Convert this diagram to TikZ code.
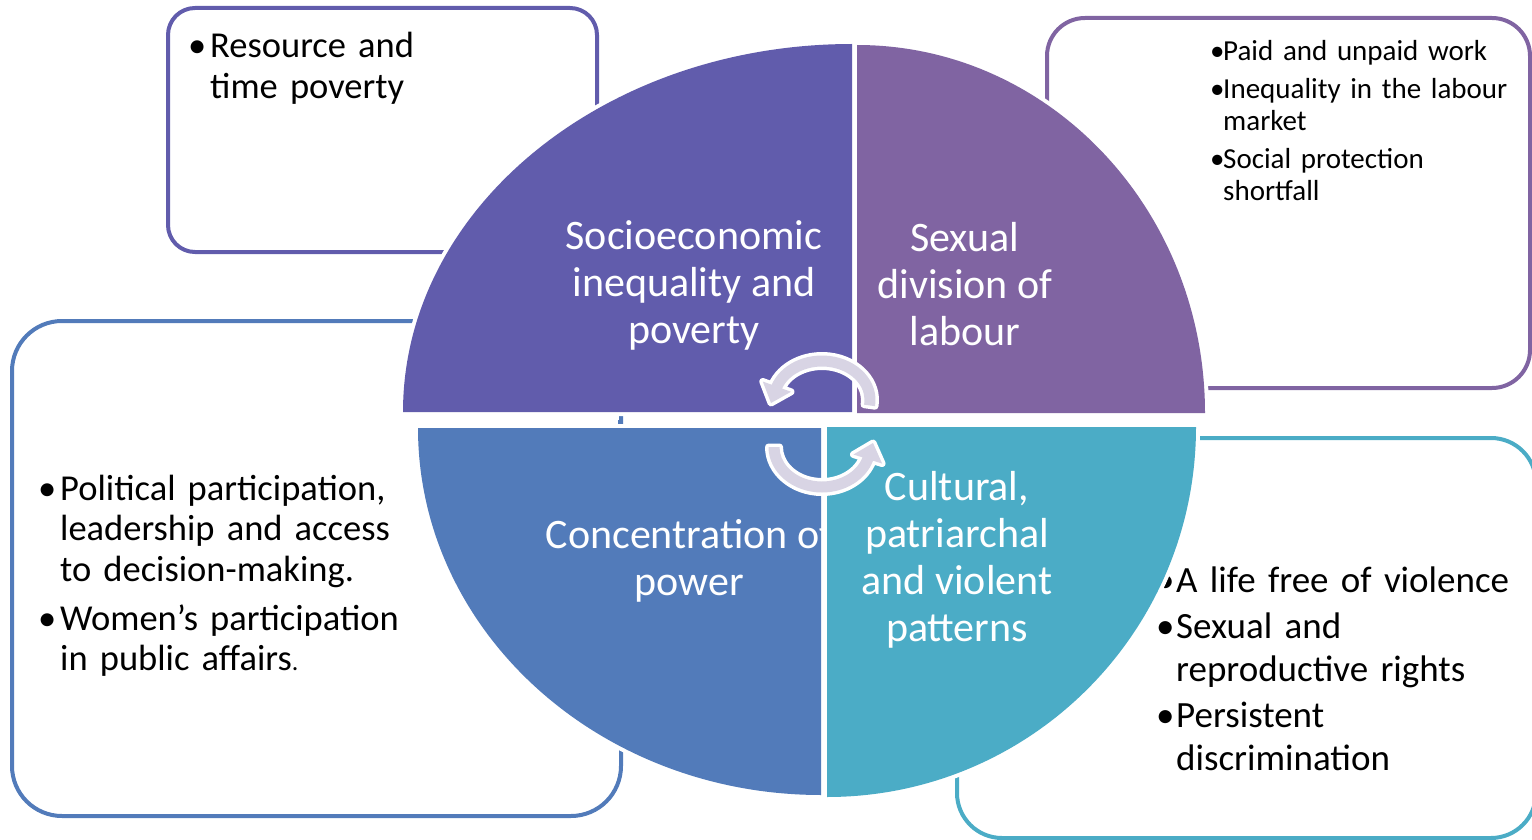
\documentclass[tikz,border=0pt]{standalone}
\usepackage{fontspec}
\setmainfont{Carlito}
\usepackage{tikz}
\usetikzlibrary{positioning}

\definecolor{socio}{HTML}{615CAC}
\definecolor{sexual}{HTML}{8064A2}
\definecolor{power}{HTML}{527BBA}
\definecolor{culture}{HTML}{4BACC6}
\definecolor{ring}{HTML}{D8D4E4}

\newcommand{\bitem}[2][20pt]{\par\hangindent=#1\hangafter=1\noindent\makebox[#1][l]{\textbullet}#2\par}

\begin{document}
\begin{tikzpicture}[x=1pt, y=1pt]
    \tikzstyle{infobox} = [rectangle, line width=4pt, inner sep=0pt]
    \tikzstyle{boxtext} = [anchor=north west, inner sep=0pt, align=left, text=black]
    \tikzstyle{quarter} = [preaction={draw=white, line width=8pt}]
    \tikzstyle{qlabel} = [align=center, text=white, font=\fontsize{42}{47}\selectfont]
    \tikzstyle{ringarrow} = [fill=ring, preaction={draw=white, line width=7pt, line join=round}]

    \useasboundingbox (0,0) rectangle (1532,-840);

    % Boxes behind the wheel
    \node (b_resource) [infobox, draw=socio, minimum width=429pt, minimum height=244pt, rounded corners=27pt] at (382.5,-130) {};
    \node (b_labour) [infobox, draw=sexual, minimum width=483pt, minimum height=370pt, rounded corners=38pt] at (1288.5,-203) {};
    \node (b_political) [infobox, draw=power, minimum width=609pt, minimum height=495pt, rounded corners=50pt] at (316.5,-568.5) {};
    \node (b_violence) [infobox, draw=culture, minimum width=579pt, minimum height=400pt, rounded corners=45pt] at (1246.5,-638) {};

    \node (t_resource) [boxtext, text width=400pt, font=\fontsize{36.5}{41}\selectfont, below right=10.5pt and 22pt of b_resource.north west] {\bitem[22pt]{Resource and\newline time poverty}};
    \node (t_labour) [boxtext, text width=320pt, font=\fontsize{29}{32}\selectfont, below right=6.5pt and 165pt of b_labour.north west] {\setlength\parskip{6pt}\bitem[13pt]{Paid and unpaid work}\bitem[13pt]{Inequality in the labour\newline market}\bitem[13pt]{Social protection\newline shortfall}};
    \node (t_political) [boxtext, text width=500pt, font=\fontsize{36.5}{40.5}\selectfont, below right=132pt and 28pt of b_political.north west] {\setlength\parskip{8.5pt}\bitem[22pt]{Political participation,\newline leadership and access\newline to decision-making.}\bitem[22pt]{Women’s participation\newline in public affairs{\fontsize{26}{26}\selectfont.}}};
    \node (t_violence) [boxtext, text width=450pt, font=\fontsize{37}{43}\selectfont, below right=110pt and 201pt of b_violence.north west] {\setlength\parskip{3pt}\bitem[20pt]{A life free of violence}\bitem[20pt]{Sexual and\newline reproductive rights}\bitem[20pt]{Persistent\newline discrimination}};

    % Wheel quarters
    \fill[quarter, socio] (852,-412) -- (403,-412) arc[start angle=180, end angle=90, x radius=449, y radius=368] -- cycle;
    \fill[quarter, sexual] (857,-413) -- (857,-45) arc[start angle=90, end angle=0, x radius=348, y radius=368] -- cycle;
    \fill[quarter, power] (821,-428) -- (821,-795) arc[start angle=270, end angle=180, x radius=403, y radius=367] -- cycle;
    \fill[power] (618,-420) rectangle (622,-424);

    \node (l_socio) [qlabel] at (694,-285) {Socioeconomic\\inequality and\\poverty};
    \node (l_sexual) [qlabel] at (965,-284) {Sexual\\division of\\labour};
    \node (l_power) [qlabel] at (689,-561) {Concentration of\\power};

    \fill[quarter, culture] (827,-427) -- (1196,-427) arc[start angle=0, end angle=-90, x radius=369, y radius=370] -- cycle;
    \node (l_culture) [qlabel] at (957,-560) {Cultural,\\patriarchal\\and violent\\patterns};

    % Arrows
    \coordinate (c_upper) at (822,-400);
    \coordinate (c_lower) at (822,-447);
    \fill[ringarrow] ([shift={(-8:53.5 and 44.5)}]c_upper) arc[start angle=-8, end angle=160, x radius=53.5, y radius=44.5]
        -- ([shift={(160:63 and 54)}]c_upper) -- (771,-403) -- ([shift={(160:33 and 24)}]c_upper)
        -- ([shift={(160:42.5 and 33.5)}]c_upper) arc[start angle=160, end angle=-8, x radius=42.5, y radius=33.5] -- cycle;
    \fill[ringarrow] ([shift={(180:53.5 and 45.5)}]c_lower) arc[start angle=180, end angle=342.5, x radius=53.5, y radius=45.5]
        -- ([shift={(342.5:63 and 55)}]c_lower) -- (873,-443) -- ([shift={(342.5:33 and 25)}]c_lower)
        -- ([shift={(342.5:42.5 and 34.5)}]c_lower) arc[start angle=342.5, end angle=180, x radius=42.5, y radius=34.5] -- cycle;
\end{tikzpicture}
\end{document}
